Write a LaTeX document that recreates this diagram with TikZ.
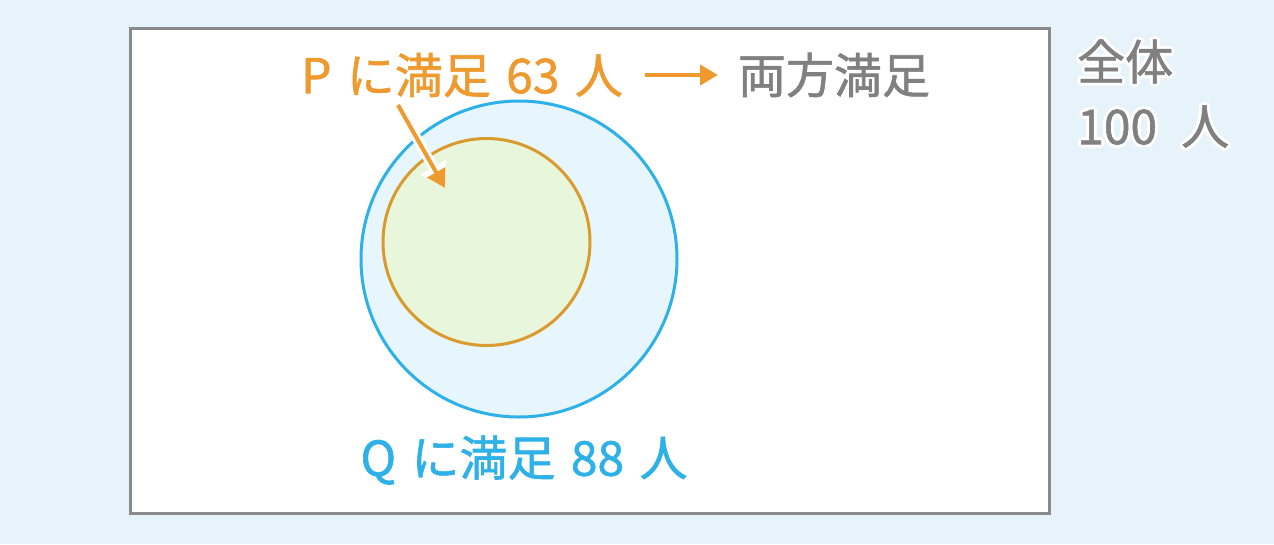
\documentclass[tikz,border=0pt]{standalone}
\usepackage{fontspec}
\setmainfont{Noto Sans CJK JP}[FakeBold=1.2]
\usepackage{contour}
\contourlength{3pt}
\contournumber{12}
\usetikzlibrary{arrows.meta}
\definecolor{bg}{HTML}{E6F3FB}
\definecolor{framegray}{HTML}{8A8A8A}
\definecolor{qblue}{HTML}{2EB0E8}
\definecolor{qfill}{HTML}{E6F6FC}
\definecolor{pline}{HTML}{D99A2E}
\definecolor{pfill}{HTML}{E8F6DC}
\definecolor{ptext}{HTML}{EE9A2E}
\definecolor{gtext}{HTML}{808080}
\newcommand{\wsp}{\hspace{0.32em}}
\tikzset{
  lbl/.style={inner sep=0pt, font=\fontsize{48}{52}\selectfont},
  arr/.style={line width=4pt, draw=ptext, -{Triangle[length=18pt,width=20pt]}},
  halo/.style={line width=10pt, draw=white, -{Triangle[length=24pt,width=28pt]}},
}
\begin{document}
\begin{tikzpicture}[x=1pt,y=-1pt]
\useasboundingbox[fill=bg] (0,0) rectangle (1274,544);
\node[draw=framegray, line width=3pt, fill=white, minimum width=919pt, minimum height=485pt, inner sep=0pt] (frame) at (589.5,270.5) {};
\node[circle, draw=qblue, line width=3pt, fill=qfill, minimum size=316pt, inner sep=0pt] (Q) at (519,259) {};
\node[circle, draw=pline, line width=3pt, fill=pfill, minimum size=207pt, inner sep=0pt] (P) at (486.5,242) {};
\node[lbl, text=ptext] (ptxt) at (462,75) {P\wsp に満足\wsp 63\wsp 人};
\node[lbl, text=gtext] (both) at (834,75) {両方満足};
\node[lbl, text=qblue] (qtxt) at (524,460) {Q\wsp に満足\wsp 88\wsp 人};
\node[lbl, text=gtext, anchor=west] (all1) at (1077,63) {\contour{white}{全体}};
\node[lbl, text=gtext, anchor=west] (all2) at (1077,128) {\contour{white}{100\hspace{0.5em}人}};
\coordinate (hs) at (645,75);
\coordinate (he) at (718,75);
\draw[arr] (hs) -- (he);
\coordinate (ds) at (398,105);
\coordinate (de) at (445,188);
\draw[halo] (ds) -- (de);
\draw[arr] (ds) -- (de);
\end{tikzpicture}
\end{document}
